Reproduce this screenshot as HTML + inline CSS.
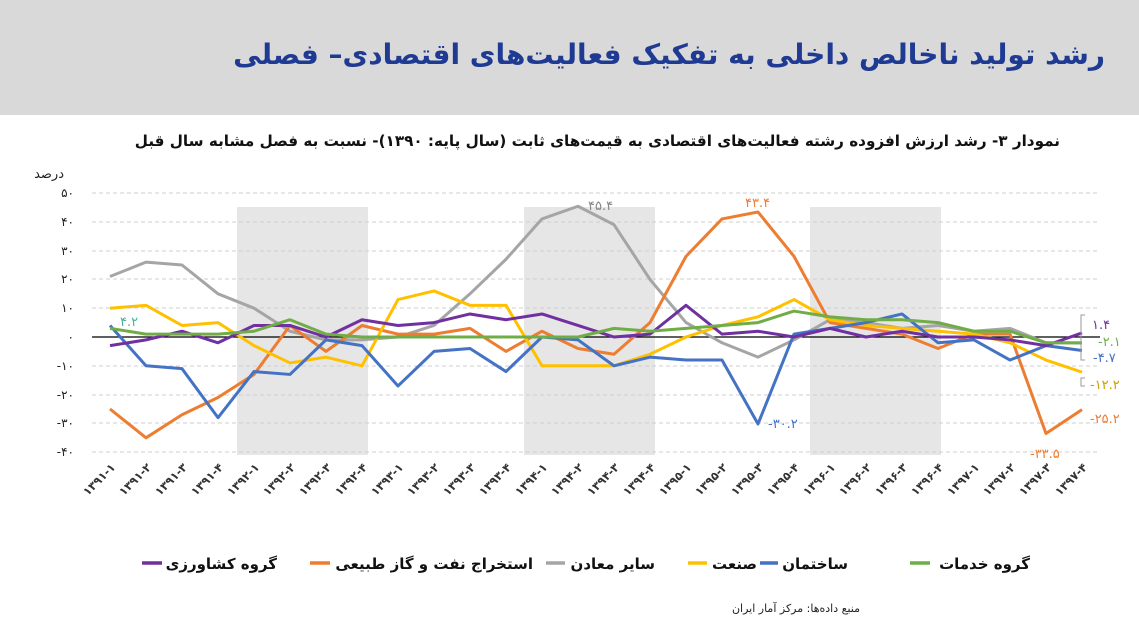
<!DOCTYPE html>
<html><head><meta charset="utf-8"><style>
body{margin:0;width:1139px;height:635px;background:#fff;overflow:hidden;font-family:"DejaVu Sans","Liberation Sans",sans-serif}
.hdr{position:absolute;left:0;top:0;width:1139px;height:115px;background:#d9d9d9}
</style></head><body>
<div class="hdr"></div>
<svg width="1139" height="635" style="position:absolute;left:0;top:0" font-family="DejaVu Sans, Liberation Sans, sans-serif">
<text x="1105" y="64" text-anchor="start" direction="rtl" font-size="28" font-weight="bold" fill="#1f3a93">رشد تولید ناخالص داخلی به تفکیک فعالیت‌های اقتصادی– فصلی</text>
<text x="1060" y="146" text-anchor="start" direction="rtl" font-size="15.2" font-weight="bold" fill="#111">نمودار ۳- رشد ارزش افزوده رشته فعالیت‌های اقتصادی به قیمت‌های ثابت (سال پایه: ۱۳۹۰)- نسبت به فصل مشابه سال قبل</text>
<text x="64" y="178" font-size="13" fill="#222" direction="rtl" text-anchor="start">درصد</text>
<rect x="237" y="207" width="131" height="248" fill="#e6e6e6"/>
<rect x="524" y="207" width="131" height="248" fill="#e6e6e6"/>
<rect x="810" y="207" width="131" height="248" fill="#e6e6e6"/>
<g stroke="#cfcfcf" stroke-dasharray="4,3" stroke-width="1">
<line x1="92" x2="1100" y1="193" y2="193"/><line x1="92" x2="1100" y1="222" y2="222"/><line x1="92" x2="1100" y1="251" y2="251"/><line x1="92" x2="1100" y1="279" y2="279"/><line x1="92" x2="1100" y1="308" y2="308"/><line x1="92" x2="1100" y1="366" y2="366"/><line x1="92" x2="1100" y1="395" y2="395"/><line x1="92" x2="1100" y1="423" y2="423"/><line x1="92" x2="1100" y1="452" y2="452"/>
</g>
<line x1="92" x2="1100" y1="337" y2="337" stroke="#000" stroke-width="1.2"/>
<g font-size="12" fill="#222" text-anchor="end" direction="ltr">
<text x="74" y="197">۵۰</text><text x="74" y="226">۴۰</text><text x="74" y="255">۳۰</text><text x="74" y="283">۲۰</text><text x="74" y="312">۱۰</text><text x="74" y="341">۰</text><text x="74" y="370">-۱۰</text><text x="74" y="399">-۲۰</text><text x="74" y="427">-۳۰</text><text x="74" y="456">-۴۰</text>
</g>
<g transform="translate(110,337) scale(36,-2.88)" fill="none" stroke-width="3" stroke-linejoin="round">
<polyline vector-effect="non-scaling-stroke" stroke="#a5a5a5" points="0,21 1,26 2,25 3,15 4,10 5,2 6,-1 7,-1 8,0 9,4 10,15 11,27 12,41 13,45.4 14,39 15,20 16,5 17,-2 18,-7 19,-1 20,6 21,5 22,3 23,4 24,2 25,3 26,-2 27,-2"/>
<polyline vector-effect="non-scaling-stroke" stroke="#ed7d31" points="0,-25 1,-35 2,-27 3,-21 4,-13 5,4 6,-5 7,4 8,1 9,1 10,3 11,-5 12,2 13,-4 14,-6 15,5 16,28 17,41 18,43.4 19,28 20,5 21,3 22,1 23,-4 24,1 25,1 26,-33.5 27,-25.2"/>
<polyline vector-effect="non-scaling-stroke" stroke="#ffc000" points="0,10 1,11 2,4 3,5 4,-3 5,-9 6,-7 7,-10 8,13 9,16 10,11 11,11 12,-10 13,-10 14,-10 15,-6 16,0 17,4 18,7 19,13 20,6 21,4 22,3 23,2 24,1 25,-2 26,-8 27,-12.2"/>
<polyline vector-effect="non-scaling-stroke" stroke="#4472c4" points="0,4 1,-10 2,-11 3,-28 4,-12 5,-13 6,-1 7,-3 8,-17 9,-5 10,-4 11,-12 12,0 13,-1 14,-10 15,-7 16,-8 17,-8 18,-30.2 19,1 20,3 21,5 22,8 23,-2 24,-1 25,-8 26,-3 27,-4.7"/>
<polyline vector-effect="non-scaling-stroke" stroke="#7030a0" points="0,-3 1,-1 2,2 3,-2 4,4 5,4 6,0 7,6 8,4 9,5 10,8 11,6 12,8 13,4 14,0 15,1 16,11 17,1 18,2 19,0 20,3 21,0 22,2 23,0 24,0 25,-1 26,-3 27,1.4"/>
<polyline vector-effect="non-scaling-stroke" stroke="#70ad47" points="0,3 1,1 2,1 3,1 4,2 5,6 6,1 7,0 8,0 9,0 10,0 11,0 12,0 13,0 14,3 15,2 16,3 17,4 18,5 19,9 20,7 21,6 22,6 23,5 24,2 25,2 26,-2 27,-2.1"/>
</g>
<g font-size="13" direction="ltr">
<text x="120" y="326" fill="#4ab0a0">۴.۲</text>
<text x="588" y="210" fill="#888">۴۵.۴</text>
<text x="745" y="207" fill="#ed7d31">۴۳.۴</text>
<text x="768" y="428" fill="#4472c4">-۳۰.۲</text>
<text x="1030" y="458" fill="#ed7d31">-۳۳.۵</text>
<text x="1092" y="329" fill="#7030a0">۱.۴</text>
<text x="1098" y="346" fill="#70ad47">-۲.۱</text>
<text x="1093" y="362" fill="#4472c4">-۴.۷</text>
<text x="1090" y="389" fill="#c9a000">-۱۲.۲</text>
<text x="1090" y="423" fill="#ed7d31">-۲۵.۲</text>
</g>
<g stroke="#999" fill="none" stroke-width="1"><path d="M1085,315 h-4 v45 h4"/><path d="M1085,378 h-4 v8 h4"/></g>
<g font-size="11.5" font-weight="bold" fill="#333" text-anchor="end" direction="ltr">
<text transform="translate(116,468) rotate(-45)">۱۳۹۱-۱</text><text transform="translate(152,468) rotate(-45)">۱۳۹۱-۲</text><text transform="translate(188,468) rotate(-45)">۱۳۹۱-۳</text><text transform="translate(224,468) rotate(-45)">۱۳۹۱-۴</text>
<text transform="translate(260,468) rotate(-45)">۱۳۹۲-۱</text><text transform="translate(296,468) rotate(-45)">۱۳۹۲-۲</text><text transform="translate(332,468) rotate(-45)">۱۳۹۲-۳</text><text transform="translate(368,468) rotate(-45)">۱۳۹۲-۴</text>
<text transform="translate(404,468) rotate(-45)">۱۳۹۳-۱</text><text transform="translate(440,468) rotate(-45)">۱۳۹۳-۲</text><text transform="translate(476,468) rotate(-45)">۱۳۹۳-۳</text><text transform="translate(512,468) rotate(-45)">۱۳۹۳-۴</text>
<text transform="translate(548,468) rotate(-45)">۱۳۹۴-۱</text><text transform="translate(584,468) rotate(-45)">۱۳۹۴-۲</text><text transform="translate(620,468) rotate(-45)">۱۳۹۴-۳</text><text transform="translate(656,468) rotate(-45)">۱۳۹۴-۴</text>
<text transform="translate(692,468) rotate(-45)">۱۳۹۵-۱</text><text transform="translate(728,468) rotate(-45)">۱۳۹۵-۲</text><text transform="translate(764,468) rotate(-45)">۱۳۹۵-۳</text><text transform="translate(800,468) rotate(-45)">۱۳۹۵-۴</text>
<text transform="translate(836,468) rotate(-45)">۱۳۹۶-۱</text><text transform="translate(872,468) rotate(-45)">۱۳۹۶-۲</text><text transform="translate(908,468) rotate(-45)">۱۳۹۶-۳</text><text transform="translate(944,468) rotate(-45)">۱۳۹۶-۴</text>
<text transform="translate(980,468) rotate(-45)">۱۳۹۷-۱</text><text transform="translate(1016,468) rotate(-45)">۱۳۹۷-۲</text><text transform="translate(1052,468) rotate(-45)">۱۳۹۷-۳</text><text transform="translate(1088,468) rotate(-45)">۱۳۹۷-۴</text>
</g>
<g stroke-width="3.5">
<line x1="142" x2="162" y1="563" y2="563" stroke="#7030a0"/>
<line x1="310" x2="330" y1="563" y2="563" stroke="#ed7d31"/>
<line x1="546" x2="565" y1="563" y2="563" stroke="#a5a5a5"/>
<line x1="688" x2="707" y1="563" y2="563" stroke="#ffc000"/>
<line x1="760" x2="778" y1="563" y2="563" stroke="#4472c4"/>
<line x1="910" x2="930" y1="563" y2="563" stroke="#70ad47"/>
</g>
<g font-size="15" font-weight="bold" fill="#111" text-anchor="start" direction="rtl">
<text x="277" y="569">گروه کشاورزی</text>
<text x="533" y="569">استخراج نفت و گاز طبیعی</text>
<text x="655" y="569">سایر معادن</text>
<text x="757" y="569">صنعت</text>
<text x="848" y="569">ساختمان</text>
<text x="1030" y="569">گروه خدمات</text>
</g>
<text x="860" y="612" text-anchor="start" direction="rtl" font-size="11" fill="#222">منبع داده‌ها: مرکز آمار ایران</text>
</svg>
</body></html>
